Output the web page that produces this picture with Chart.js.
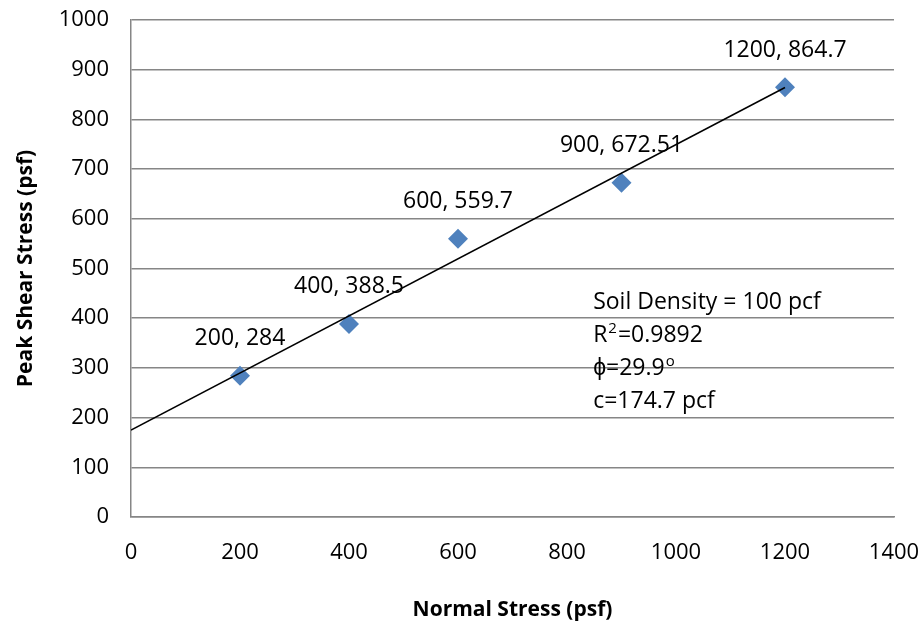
<!DOCTYPE html>
<html>
<head>
<meta charset="utf-8">
<script src="https://cdn.jsdelivr.net/npm/chart.js@4.4.0/dist/chart.umd.min.js"></script>
<style>
  html, body { margin: 0; padding: 0; background: #fff; }
  #wrap { width: 924px; height: 634px; }
</style>
</head>
<body>
<div id="wrap"><canvas id="myChart" width="924" height="634"></canvas></div>
<script>
// datos
const normalStress = [200, 400, 600, 900, 1200];
const peakShear = [284, 388.5, 559.7, 672.51, 864.7];
const xTicks = [0, 200, 400, 600, 800, 1000, 1200, 1400];
const yTicks = [0, 100, 200, 300, 400, 500, 600, 700, 800, 900, 1000];
const noteLines = ['Soil Density = 100 pcf', 'R^2=0.9892', '\u03D5=29.9^o', 'c=174.7 pcf'];
const noteAnchor = { x: 848, y: 432 }; // en unidades de datos

const FONT = "'Open Sans', sans-serif";
const BLUE = '#4F81BD';
const GRID = '#868686';

// linea de tendencia (minimos cuadrados)
const n = normalStress.length;
const mx = normalStress.reduce((a, b) => a + b, 0) / n;
const my = peakShear.reduce((a, b) => a + b, 0) / n;
let sxy = 0, sxx = 0;
normalStress.forEach((x, i) => { sxy += (x - mx) * (peakShear[i] - my); sxx += (x - mx) * (x - mx); });
const slope = sxy / sxx;
const intercept = my - slope * mx;
const trendX = [0, 1200];

const points = normalStress.map((x, i) => ({ x: x, y: peakShear[i] }));
const trend = trendX.map(x => ({ x: x, y: intercept + slope * x }));

// etiquetas de puntos y cuadro de texto
const labelsPlugin = {
  id: 'labelsPlugin',
  afterDatasetsDraw(chart) {
    const ctx = chart.ctx;
    const meta = chart.getDatasetMeta(1);
    ctx.save();
    ctx.fillStyle = '#000';
    ctx.font = '23px ' + FONT;
    ctx.textAlign = 'center';
    ctx.textBaseline = 'middle';
    meta.data.forEach((el, i) => {
      ctx.fillText(normalStress[i] + ', ' + peakShear[i], el.x, el.y - 37);
    });

    // cuadro de notas
    const xs = chart.scales.x, ys = chart.scales.y;
    const left = xs.getPixelForValue(noteAnchor.x);
    let top = ys.getPixelForValue(noteAnchor.y);
    ctx.textAlign = 'left';
    noteLines.forEach(line => {
      let cx = left;
      const parts = line.split('^');
      ctx.font = '23px ' + FONT;
      ctx.fillText(parts[0], cx, top);
      cx += ctx.measureText(parts[0]).width;
      if (parts[1]) {
        const sup = parts[1][0];
        ctx.font = '15px ' + FONT;
        ctx.fillText(sup, cx + 1, top - 7);
        cx += ctx.measureText(sup).width + 2;
        ctx.font = '23px ' + FONT;
        ctx.fillText(parts[1].slice(1), cx, top);
      }
      top += 33;
    });
    ctx.restore();
  }
};

new Chart(document.getElementById('myChart'), {
  type: 'scatter',
  data: {
    datasets: [
      {
        type: 'line',
        label: 'trend',
        data: trend,
        borderColor: '#000',
        borderWidth: 1.5,
        pointRadius: 0,
        fill: false
      },
      {
        label: 'Peak Shear Stress',
        data: points,
        pointStyle: 'rectRot',
        pointRadius: 10,
        pointHoverRadius: 10,
        backgroundColor: BLUE,
        borderColor: BLUE,
        borderWidth: 0
      }
    ]
  },
  options: {
    responsive: false,
    animation: false,
    layout: { padding: { top: 20, right: 30, left: 0, bottom: 0 } },
    plugins: {
      legend: { display: false },
      tooltip: { enabled: false }
    },
    scales: {
      x: {
        type: 'linear',
        min: 0, max: 1400,
        afterBuildTicks: axis => { axis.ticks = xTicks.map(v => ({ value: v })); },
        afterFit: axis => { axis.height = 117; axis.paddingLeft = 0; axis.paddingRight = 0; },
        grid: { display: false, drawTicks: false },
        border: { display: true, color: GRID, width: 1.5 },
        ticks: { color: '#000', font: { family: FONT, size: 22 }, padding: 23, maxRotation: 0, callback: v => String(v) },
        title: {
          display: true,
          text: 'Normal Stress (psf)',
          color: '#000',
          font: { family: FONT, size: 21, weight: 'bold' },
          padding: { top: 0, bottom: 11 }
        }
      },
      y: {
        type: 'linear',
        min: 0, max: 1000,
        afterBuildTicks: axis => { axis.ticks = yTicks.map(v => ({ value: v })); },
        afterFit: axis => { axis.width = 131; axis.paddingTop = 0; axis.paddingBottom = 0; },
        grid: { color: GRID, lineWidth: 1.5, drawTicks: false },
        border: { display: true, color: GRID, width: 1.5 },
        ticks: { color: '#000', font: { family: FONT, size: 22 }, padding: 22, callback: v => String(v) },
        title: {
          display: true,
          text: 'Peak Shear Stress (psf)',
          color: '#000',
          font: { family: FONT, size: 21, weight: 'bold' },
          padding: { top: 13, bottom: 0 }
        }
      }
    }
  },
  plugins: [labelsPlugin]
});
</script>
</body>
</html>
